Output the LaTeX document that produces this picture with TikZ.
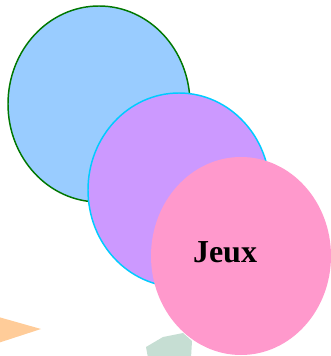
\documentclass[tikz,border=0pt]{standalone}
\usepackage{fontspec}
\setmainfont{Liberation Serif}
\definecolor{cblue}{HTML}{99CCFF}
\definecolor{cpurple}{HTML}{CC99FF}
\definecolor{cpink}{HTML}{FF99CC}
\definecolor{corange}{HTML}{FFCC99}
\definecolor{cgreyg}{HTML}{C6DED3}
\definecolor{cdgreen}{HTML}{007700}
\definecolor{ccyan}{HTML}{00CCFF}
\begin{document}
\begin{tikzpicture}[x=0.75pt,y=-0.75pt]
\useasboundingbox (0,0) rectangle (330,356);
\fill[corange] (-5,316) -- (41,329) -- (-5,344) -- cycle;
\fill[cgreyg] (146,347) -- (163,337) -- (183,333) -- (192,341) -- (191,358) -- (148,358) -- cycle;
\draw[cdgreen, fill=cblue, line width=1.1pt] (99,104) ellipse [x radius=91, y radius=98];
\draw[ccyan, fill=cpurple, line width=1.1pt] (179,190) ellipse [x radius=91, y radius=97];
\fill[cpink] (241,256) ellipse [x radius=90, y radius=99];
\node[font=\bfseries\fontsize{24}{27}\selectfont, inner sep=0pt] (jeux) at (225,252) {Jeux};
\end{tikzpicture}
\end{document}
